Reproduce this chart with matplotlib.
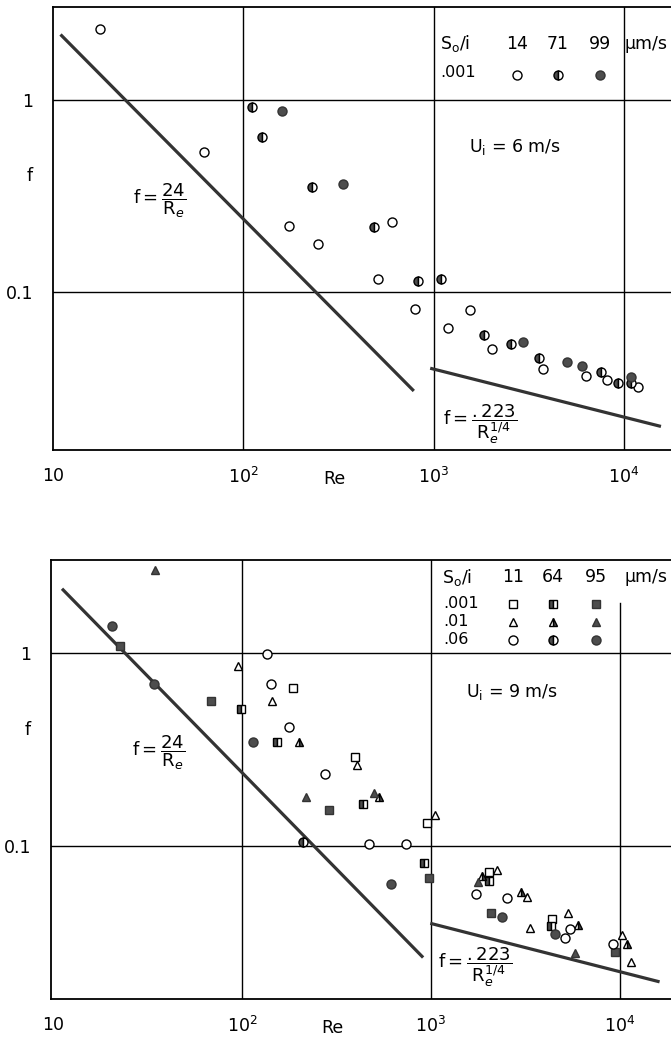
import numpy as np
import matplotlib.pyplot as plt

plt.rcParams['font.family'] = 'DejaVu Sans'
plt.rcParams['mathtext.fontset'] = 'dejavusans'

DARK = '#4d4d4d'

# --- upper panel: U_i = 6 m/s, S_o/i = .001 (circles: 14, 71, 99 um/s)
re6_14 = [17.7, 62, 173, 246, 508, 602, 795, 1183, 1545, 2014, 3735, 6280, 8190, 11780]
f6_14 = [2.34, 0.536, 0.221, 0.178, 0.117, 0.232, 0.0815, 0.065, 0.0806, 0.0505,
         0.0397, 0.0365, 0.0348, 0.032]
re6_71 = [111, 125, 229, 484, 824, 1089, 1829, 2564, 3597, 7540, 9350, 10940]
f6_71 = [0.92, 0.64, 0.352, 0.218, 0.114, 0.117, 0.0597, 0.0536, 0.0453, 0.0383,
         0.0336, 0.0336]
re6_99 = [159, 333, 2930, 5049, 6053, 10940]
f6_99 = [0.877, 0.365, 0.0549, 0.0432, 0.0412, 0.036]

# --- lower panel: U_i = 9 m/s (squares .001, triangles .01, circles .06)
re9_sq11 = [186, 397, 953, 2028, 4367]
f9_sq11 = [0.659, 0.289, 0.132, 0.0733, 0.0418]
re9_sq64 = [99, 153, 437, 918, 2028, 4315]
f9_sq64 = [0.513, 0.346, 0.165, 0.0816, 0.0659, 0.0385]
re9_sq95 = [22.6, 68.5, 289, 975, 2076, 9420]
f9_sq95 = [1.09, 0.564, 0.154, 0.0683, 0.045, 0.0282]
re9_tr11 = [95, 144, 405, 1050, 2232, 3222, 3342, 5304, 10250, 11430]
f9_tr11 = [0.857, 0.564, 0.263, 0.145, 0.0751, 0.0544, 0.0376, 0.045, 0.0346, 0.0251]
re9_tr64 = [200, 531, 1862, 2993, 5998, 10900]
f9_tr64 = [0.346, 0.179, 0.0699, 0.0578, 0.039, 0.031]
re9_tr95 = [34.6, 218, 499, 1774, 5785]
f9_tr95 = [2.69, 0.179, 0.188, 0.065, 0.0279]
re9_ci11 = [135, 142, 177, 275, 470, 738, 1730, 2524, 5117, 5433, 9190]
f9_ci11 = [0.99, 0.69, 0.414, 0.236, 0.102, 0.102, 0.0564, 0.0538, 0.0334, 0.0372, 0.031]
re9_ci64 = [210]
f9_ci64 = [0.105]
re9_ci95 = [20.5, 34.2, 114, 614, 2376, 4527]
f9_ci95 = [1.38, 0.69, 0.346, 0.0636, 0.0429, 0.035]

# ranges of the two reference laws
re6_lam = [11.1, 776]
re6_turb = [977, 15350]
re9_lam = [11.3, 896]
re9_turb = [1010, 15900]


def mstyle(marker, fill):
    st = dict(marker=marker, linestyle='none', markeredgecolor='black',
              markeredgewidth=1.0, markersize=6.5 if marker == 'o' else 6)
    if fill == 'open':
        st['markerfacecolor'] = 'white'
    elif fill == 'half':
        st['fillstyle'] = 'right' if marker == '^' else 'left'
        st['markerfacecolor'] = DARK
        st['markerfacecoloralt'] = 'white'
    else:
        st['markerfacecolor'] = DARK
        st['markeredgecolor'] = '#333333'
    if marker == 's':
        st['markersize'] = 5.5
    return st


def setup(ax, xlim, ylim, v4_top=1.0):
    ax.set_xscale('log')
    ax.set_yscale('log')
    ax.set_xlim(*xlim)
    ax.set_ylim(*ylim)
    for x in [100, 1000]:
        ax.axvline(x, color='black', lw=1.0, zorder=1)
    ax.axvline(10000, ymax=v4_top, color='black', lw=1.0, zorder=1)
    for y in [1, 0.1]:
        ax.axhline(y, color='black', lw=1.0, zorder=1)
    ax.spines['right'].set_visible(False)
    for s in ['top', 'left', 'bottom']:
        ax.spines[s].set_linewidth(1.3)
    ax.set_xticks([10, 100, 1000, 10000])
    ax.set_xticklabels(['10', '$10^2$', '$10^3$', '$10^4$'])
    ax.set_yticks([0.1, 1])
    ax.set_yticklabels(['0.1', '1'])
    ax.minorticks_off()
    ax.tick_params(length=0, labelsize=12.5)
    ax.tick_params(axis='x', pad=12)
    ax.tick_params(axis='y', pad=14)
    ax.text(-0.037, 0.4, 'f', transform=ax.get_yaxis_transform(), fontsize=12.5,
            ha='center', va='center')
    ax.text(300, -0.045, 'Re', transform=ax.get_xaxis_transform(), fontsize=12.5,
            ha='center', va='top')


def laws(ax, lam, turb, lab1, lab2):
    r = np.array(lam)
    ax.plot(r, 24 / r, color='#333333', lw=2.3, zorder=2)
    r = np.array(turb)
    ax.plot(r, 0.223 / r ** 0.25, color='#333333', lw=2.3, zorder=2)
    ax.text(lab1[0], lab1[1], r'$\mathrm{f}=\dfrac{24}{\mathrm{R}_e}$', fontsize=13,
            ha='center', va='center')
    ax.text(lab2[0], lab2[1], r'$\mathrm{f}=\dfrac{.223}{\mathrm{R}_e^{1/4}}$',
            fontsize=13, ha='center', va='center')


fig = plt.figure(figsize=(6.71, 10.38), dpi=100)

# upper panel
ax1 = fig.add_axes([53 / 671, 1 - 450 / 1038, 618 / 671, 443 / 1038])
setup(ax1, (10, 10 ** 4.247), (10 ** -1.823, 10 ** 0.484))
laws(ax1, re6_lam, re6_turb, (36.5, 0.30), (1742, 0.0205))
ax1.plot(re6_14, f6_14, **mstyle('o', 'open'), zorder=3)
ax1.plot(re6_71, f6_71, **mstyle('o', 'half'), zorder=3)
ax1.plot(re6_99, f6_99, **mstyle('o', 'full'), zorder=3)
ax1.text(2660, 0.569, r'U$_\mathrm{i}$ = 6 m/s', fontsize=12.5, ha='center', va='center')

# legend table of the upper panel
hy = (450 - 44) / 443
ry = (450 - 75) / 443
ax1.text((440 - 53) / 618, hy, r'S$_\mathrm{o}$/i', transform=ax1.transAxes,
         fontsize=12.5, ha='left', va='center')
for lab, px, fill in [('14', 517, 'open'), ('71', 558, 'half'), ('99', 600, 'full')]:
    ax1.text((px - 53) / 618, hy, lab, transform=ax1.transAxes, fontsize=12.5,
             ha='center', va='center')
    ax1.plot([(px - 53) / 618], [ry], transform=ax1.transAxes, clip_on=False,
             **mstyle('o', fill))
ax1.text((625 - 53) / 618, hy, 'µm/s', transform=ax1.transAxes, fontsize=12.5,
         ha='left', va='center')
ax1.text((440 - 53) / 618, ry + 0.005, '.001', transform=ax1.transAxes, fontsize=11.5,
         ha='left', va='center')

# lower panel
ax2 = fig.add_axes([51 / 671, 1 - 999 / 1038, 620 / 671, 439 / 1038])
setup(ax2, (10 ** 0.989, 10 ** 4.27), (10 ** -1.793, 10 ** 0.482), v4_top=0.902)
laws(ax2, re9_lam, re9_turb, (36, 0.303), (1710, 0.0235))
series9 = [
    (re9_sq11, f9_sq11, 's', 'open'), (re9_sq64, f9_sq64, 's', 'half'),
    (re9_sq95, f9_sq95, 's', 'full'), (re9_tr11, f9_tr11, '^', 'open'),
    (re9_tr64, f9_tr64, '^', 'half'), (re9_tr95, f9_tr95, '^', 'full'),
    (re9_ci11, f9_ci11, 'o', 'open'), (re9_ci64, f9_ci64, 'o', 'half'),
    (re9_ci95, f9_ci95, 'o', 'full'),
]
for xs, ys, m, fill in series9:
    ax2.plot(xs, ys, **mstyle(m, fill), zorder=3)
ax2.text(2685, 0.628, r'U$_\mathrm{i}$ = 9 m/s', fontsize=12.5, ha='center', va='center')

# legend table of the lower panel
hy = (999 - 577) / 439
ax2.text((442 - 51) / 620, hy, r'S$_\mathrm{o}$/i', transform=ax2.transAxes,
         fontsize=12.5, ha='left', va='center')
for lab, px in [('11', 513), ('64', 553), ('95', 596)]:
    ax2.text((px - 51) / 620, hy, lab, transform=ax2.transAxes, fontsize=12.5,
             ha='center', va='center')
ax2.text((625 - 51) / 620, hy, 'µm/s', transform=ax2.transAxes, fontsize=12.5,
         ha='left', va='center')
for lab, py, m in [('.001', 604, 's'), ('.01', 622, '^'), ('.06', 640, 'o')]:
    yy = (999 - py) / 439
    ax2.text((443 - 51) / 620, yy, lab, transform=ax2.transAxes, fontsize=11.5,
             ha='left', va='center')
    for px, fill in [(513, 'open'), (553, 'half'), (596, 'full')]:
        ax2.plot([(px - 51) / 620], [yy], transform=ax2.transAxes, clip_on=False,
                 **mstyle(m, fill))

fig.savefig('out.png', dpi=100)
